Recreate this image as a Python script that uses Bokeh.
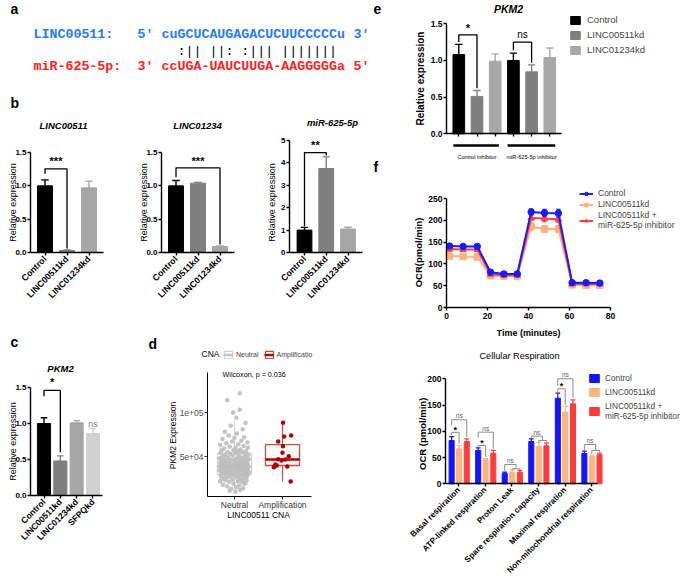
import math
from bokeh.plotting import figure
from bokeh.models import Range1d, Label, FixedTicker, Legend, LegendItem, NumeralTickFormatter
from bokeh.layouts import row, column
from bokeh.embed import file_html
from bokeh.resources import INLINE

FONT = "Liberation Sans"
MONO = "Liberation Mono"

# ================= data =================
# a
lnc_name = "LINC00511:"
mir_name = "miR-625-5p:"
seq_lnc = "cuGCUCAUGAGACUCUUCCCCCu"
seq_mir = "ccUGA-UAUCUUGA-AAGGGGGa"
pairing = ":|| ||: :||| |||||||"

# b
b_cats = ["Control", "LINC00511kd", "LINC01234kd"]
b1_vals = [1.00, 0.03, 0.97]
b1_err = [0.09, 0.01, 0.10]
b2_vals = [1.00, 1.04, 0.09]
b2_err = [0.08, 0.01, 0.01]
b3_vals = [1.00, 3.75, 1.05]
b3_err = [0.12, 0.52, 0.08]

# c
c_cats = ["Control", "LINC00511kd", "LINC01234kd", "SFPQkd"]
c_vals = [1.00, 0.48, 1.01, 0.86]
c_err = [0.08, 0.07, 0.03, 0.07]

# d
d_cats = ["Neutral", "Amplification"]
neutral_k = [122, 114, 103, 100, 94, 88, 85, 81, 78, 76,
             74, 72, 71, 70, 68, 67, 66, 65, 64, 63,
             62, 61, 60, 60, 59, 58, 57, 57, 56, 56,
             55, 55, 54, 54, 53, 53, 52, 52, 51, 51,
             50, 50, 49, 49, 49, 48, 48, 47, 47, 47,
             46, 46, 46, 45, 45, 45, 44, 44, 44, 43,
             43, 43, 42, 42, 42, 42, 41, 41, 41, 40,
             40, 40, 40, 39, 39, 39, 39, 38, 38, 38,
             38, 37, 37, 37, 37, 36, 36, 36, 35, 35,
             35, 35, 34, 34, 34, 33, 33, 33, 33, 32,
             32, 32, 31, 31, 31, 30, 30, 30, 29, 29,
             29, 28, 28, 28, 27, 27, 27, 26, 26, 25,
             25, 24, 24, 23, 23, 22, 22, 21, 21, 20,
             19, 19, 18, 17, 16, 15, 14, 13, 12, 11,
             10]
neutral_jit = [0.11, -0.15, 0.11, -0.03, 0.04, 0.23, -0.08, 0.17, -0.2, 0.05,
               -0.12, 0.2, 0.0, -0.25, 0.14, -0.05, 0.27, -0.17, 0.08, -0.3,
               0.19, -0.1, 0.02, 0.28, -0.22, 0.12, -0.02, -0.27, 0.24, 0.07,
               -0.14, 0.16, -0.29, 0.03, 0.21, -0.09, 0.29, -0.19, 0.1, -0.04,
               0.25, -0.24, 0.06, 0.18, -0.13, -0.31, 0.13, 0.01, -0.21, 0.3,
               -0.07, 0.22, -0.28, 0.09, -0.16, 0.26, 0.0, -0.23, 0.15, -0.11,
               0.2, -0.3, 0.04, 0.27, -0.18, 0.12, -0.06, 0.24, -0.26, 0.08,
               -0.13, 0.18, -0.01, 0.29, -0.22, 0.06, -0.3, 0.15, -0.09, 0.23,
               -0.17, 0.02, 0.26, -0.25, 0.11, -0.04, 0.2, -0.28, 0.14, -0.12,
               0.28, -0.2, 0.07, -0.31, 0.17, -0.06, 0.24, -0.15, 0.01, 0.3,
               -0.24, 0.1, -0.1, 0.22, -0.27, 0.05, 0.19, -0.18, 0.27, -0.03,
               0.13, -0.29, 0.21, -0.08, 0.09, -0.22, 0.26, -0.14, 0.03, 0.18,
               -0.26, 0.12, -0.05, 0.25, -0.19, 0.07, -0.3, 0.16, -0.11, 0.23,
               -0.02, 0.2, -0.24, 0.1, -0.15, 0.04, 0.18, -0.07, 0.12, -0.1,
               0.02]
amp_k = [88.3, 73.9, 72.7, 67.0, 61.7, 54.2, 50.4, 47.0, 46.6, 45.5, 40.9, 37.9, 39.8, 38.6, 21.6]
amp_jit = [0.01, 0.18, 0.035, -0.09, 0.01, 0.0, 0.13, -0.09, 0.06, -0.02, -0.15, -0.18, -0.12, 0.1, 0.17]
box_q1 = [29500, 39800]
box_med = [38500, 46600]
box_q3 = [53750, 63600]
box_lo = [9500, 21600]
box_hi = [90000, 88300]

# e
e_groups = ["Control inhibitor", "miR-625-5p inhibitor"]
e_series = ["Control", "LINC00511kd", "LINC01234kd"]
e_ctrl = [1.08, 1.00]
e_ctrl_err = [0.14, 0.10]
e_kd511 = [0.51, 0.845]
e_kd511_err = [0.08, 0.095]
e_kd1234 = [0.99, 1.04]
e_kd1234_err = [0.10, 0.13]

# f (top)
f_time = [1.5, 8.1, 15.0, 21.5, 28.0, 34.5, 41.3, 47.8, 54.6, 61.3, 68.1, 74.8]
f_ctrl = [141, 140, 140, 81, 77, 77, 219, 217, 216, 57, 57, 56]
f_ctrl_err = [4, 3, 5, 3, 2, 2, 7, 8, 9, 2, 2, 2]
f_kd = [118, 117, 116, 73, 72, 72, 186, 180, 180, 52, 51, 51]
f_kd_err = [6, 5, 6, 3, 3, 3, 9, 8, 8, 2, 2, 2]
f_inh = [134, 133, 133, 76, 74, 74, 205, 204, 202, 54, 54, 54]
f_inh_err = [5, 4, 5, 2, 2, 2, 6, 7, 7, 2, 2, 2]
f_series = ["Control", "LINC00511kd", "LINC00511kd +\nmiR-625-5p inhibitor"]

# f (bottom)
resp_cats = ["Basal respiration", "ATP-linked respiration", "Proton Leak",
             "Spare respiration capacity", "Maximal respiration", "Non-mitochondrial respiration"]
resp_ctrl = [82.5, 63.5, 20.3, 80.6, 163.0, 57.8]
resp_ctrl_err = [7.5, 5.0, 2.0, 5.0, 9.7, 4.4]
resp_kd = [66.7, 45.7, 22.2, 71.0, 136.5, 52.7]
resp_kd_err = [6.3, 2.3, 4.5, 8.0, 10.8, 1.9]
resp_inh = [80.6, 58.4, 22.2, 72.4, 152.4, 55.2]
resp_inh_err = [5.1, 5.1, 3.2, 5.1, 7.6, 3.2]


# ================= helpers =================
def make(cx, cy, w, h, xa, ya, axes=True):
    """Figure whose plotting frame covers its whole canvas; xa/ya map data to page pixels."""
    kx = (xa[2] - xa[0]) / (xa[3] - xa[1])
    ky = (ya[2] - ya[0]) / (ya[3] - ya[1])
    fx = lambda P: xa[0] + (P - xa[1]) * kx
    fy = lambda P: ya[0] + (P - ya[1]) * ky
    kw = {}
    if not axes:
        kw = dict(x_axis_location=None, y_axis_location=None)
    p = figure(width=w, height=h,
               x_range=Range1d(fx(cx), fx(cx + w)), y_range=Range1d(fy(cy + h), fy(cy)),
               min_border=0, min_border_left=0, min_border_right=0,
               min_border_top=0, min_border_bottom=0,
               output_backend="svg", toolbar_location=None, tools="", **kw)
    p.grid.visible = False
    p.outline_line_color = None
    return p, fx, fy


def lab(p, x, y, text, size, color="black", style="normal", align="center",
        baseline="middle", angle=0.0, font=FONT):
    p.add_layout(Label(x=x, y=y, text=text, text_font=font, text_font_size=f"{size}px",
                       text_color=color, text_font_style=style, text_align=align,
                       text_baseline=baseline, angle=angle))


def gp_axes(p, yloc, xloc, xbounds, ybounds, xticks, xlabels, yticks, yfmt=None,
            xsize=8.8, ysize=8, orient=math.pi / 4, lw=1.4):
    for ax in (p.xaxis[0], p.yaxis[0]):
        ax.axis_line_width = lw
        ax.axis_line_color = "black"
        ax.major_tick_line_width = lw
        ax.major_tick_line_color = "black"
        ax.major_tick_in = 0
        ax.major_tick_out = 3
        ax.minor_tick_line_color = None
        ax.major_label_text_font = FONT
        ax.major_label_text_font_style = "bold"
        ax.major_label_text_color = "black"
    p.xaxis.major_label_standoff = 2
    p.yaxis.major_label_standoff = 1
    p.yaxis.fixed_location = yloc
    p.xaxis.fixed_location = xloc
    p.xaxis.bounds = xbounds
    p.yaxis.bounds = ybounds
    p.xaxis.ticker = FixedTicker(ticks=xticks)
    p.xaxis.major_label_overrides = {t: l for t, l in zip(xticks, xlabels)}
    p.xaxis.major_label_orientation = orient
    p.xaxis.major_label_text_font_size = f"{xsize}px"
    p.yaxis.ticker = FixedTicker(ticks=yticks)
    p.yaxis.major_label_text_font_size = f"{ysize}px"
    if yfmt:
        p.yaxis.formatter = NumeralTickFormatter(format=yfmt)


def errbars(p, xs, vals, errs, colors, cap, lw=1.4):
    tops = [v + e for v, e in zip(vals, errs)]
    p.segment(x0=xs, y0=vals, x1=xs, y1=tops, line_color=colors, line_width=lw)
    p.segment(x0=[x - cap for x in xs], y0=tops, x1=[x + cap for x in xs], y1=tops,
              line_color=colors, line_width=lw)


def brackets(p, specs, color="black", lw=1.3):
    # spec: (x0, x1, y_line, y_left_end, y_right_end)
    xs = [[s[0], s[0], s[1], s[1]] for s in specs]
    ys = [[s[3], s[2], s[2], s[4]] for s in specs]
    p.multi_line(xs=xs, ys=ys, line_color=color, line_width=lw)


# ================= panel a =================
pa, fx, fy = make(0, 0, 370, 88, (0, 0, 1, 1), (0, 0, -1, 1), axes=False)
lab(pa, fx(10), fy(8), "a", 14, style="bold", align="left")
blue_t = "#1f7bff"
red_t = "#ff2020"
CW = 8.0
for txt, X, Y, col, st in [(lnc_name, 33, 34, blue_t, "bold"), ("5'", 33 + 13 * CW, 34, blue_t, "bold"),
                           (seq_lnc, 33 + 16 * CW, 34, blue_t, "bold"), ("3'", 33 + 40 * CW, 34, blue_t, "bold"),
                           (pairing, 33 + 18 * CW, 51, "black", "normal"),
                           (mir_name, 33, 66, red_t, "bold"), ("3'", 33 + 13 * CW, 66, red_t, "bold"),
                           (seq_mir, 33 + 16 * CW, 66, red_t, "bold"), ("5'", 33 + 40 * CW, 66, red_t, "bold")]:
    lab(pa, fx(X), fy(Y), txt, 13.3, color=col, style=st, align="left", font=MONO)

# ================= panel b =================
b_colors = ["#000000", "#7f7f7f", "#a6a6a6"]
xs3 = [0, 1, 2]


def bpanel(cx, w, axX, xa, ya, vals, errs, yticks, ytop, yfmt, title, tX, tY, br, stars, starY):
    p, fx, fy = make(cx, 88, w, 235, xa, ya)
    p.vbar(x=xs3, top=vals, width=0.68, color=b_colors)
    errbars(p, xs3, vals, errs, b_colors, 0.17)
    brackets(p, [br])
    lab(p, (br[0] + br[1]) / 2, starY, stars, 11, style="bold")
    gp_axes(p, fx(axX), 0, (fx(axX), fx(axX + 73)), (0, ytop), xs3, b_cats, yticks, yfmt)
    lab(p, fx(tX), fy(tY), title, 9.5, style="bold italic")
    lab(p, fx(axX - 17.5), fy(202), "Relative expression", 9, angle=math.pi / 2)
    return p, fx, fy


b1, fx, fy = bpanel(0, 130, 30, (0, 44.5, 1, 66.5), (0, 252, 1.5, 152),
                    b1_vals, b1_err, [0, 0.5, 1.0, 1.5], 1.5, "0.0", "LINC00511", 63, 125,
                    (0, 1, 1.255, 1.18, 0.06), "***", 1.37)
lab(b1, fx(10), fy(102), "b", 14, style="bold", align="left")
b2, fx, fy = bpanel(130, 120, 161, (0, 175.5, 1, 197.5), (0, 252, 1.5, 152),
                    b2_vals, b2_err, [0, 0.5, 1.0, 1.5], 1.5, "0.0", "LINC01234", 197, 125,
                    (0, 2, 1.27, 1.13, 0.12), "***", 1.38)
b3, fx, fy = bpanel(250, 120, 289, (0, 304, 1, 325.75), (0, 252, 5, 140),
                    b3_vals, b3_err, [0, 1, 2, 3, 4, 5], 5, None, "miR-625-5p", 332, 122,
                    (0, 1, 4.46, 1.17, 4.33), "**", 4.8)

# ================= panel c =================
c_colors = ["#000000", "#7f7f7f", "#a6a6a6", "#d0d0d0"]
xs4 = [0, 1, 2, 3]
pc, fx, fy = make(0, 323, 140, 255, (0, 43.5, 1, 59.83), (0, 495, 1.5, 387))
pc.vbar(x=xs4, top=c_vals, width=0.8, color=c_colors)
errbars(pc, xs4, c_vals, c_err, c_colors, 0.2)
brackets(pc, [(0, 1, 1.46, 1.38, 0.6)])
lab(pc, 0.5, 1.57, "*", 11, style="bold")
lab(pc, 3, 1.0, "ns", 9, color="#808080")
gp_axes(pc, fx(30), 0, (fx(30), fx(102)), (0, 1.5), xs4, c_cats, [0, 0.5, 1.0, 1.5], "0.0", xsize=8.6)
lab(pc, fx(60), fy(368), "PKM2", 9.5, style="bold italic")
lab(pc, fx(12.5), fy(441), "Relative expression", 9, angle=math.pi / 2)
lab(pc, fx(10), fy(341), "c", 14, style="bold", align="left")

# ================= panel d =================
pd_, fx, fy = make(140, 323, 230, 255, (1, 234, 2, 282), (50000, 456, 100000, 412))
box_line = ["#d4d4d4", "#cf4c4c"]
box_medc = ["#c2c2c2", "#b30000"]
leg_items = []
for i, pos in enumerate([1, 2]):
    hw = 0.355
    rq = pd_.quad(left=[pos - hw], right=[pos + hw], bottom=[box_q1[i]], top=[box_q3[i]],
                  fill_color="white", fill_alpha=0.0, line_color=box_line[i], line_width=1.3)
    pd_.segment(x0=[pos, pos], y0=[box_q3[i], box_q1[i]], x1=[pos, pos], y1=[box_hi[i], box_lo[i]],
                line_color=box_line[i], line_width=1.2)
    rm = pd_.segment(x0=[pos - hw], y0=[box_med[i]], x1=[pos + hw], y1=[box_med[i]],
                     line_color=box_medc[i], line_width=2.4)
    leg_items.append(LegendItem(label=d_cats[i] if i == 0 else "Amplificatio", renderers=[rq, rm]))
pd_.scatter(x=[1 + j for j in neutral_jit], y=[v * 1000 for v in neutral_k], size=4.5,
            color="#bdbdbd", alpha=0.9, line_color=None)
pd_.scatter(x=[2 + j for j in amp_jit], y=[v * 1000 for v in amp_k], size=4.5,
            color="#b00000", line_color=None)
for ax in (pd_.xaxis[0], pd_.yaxis[0]):
    ax.axis_line_width = 1.0
    ax.axis_line_color = "black"
    ax.major_tick_line_color = "#333333"
    ax.major_tick_in = 0
    ax.major_tick_out = 3
    ax.minor_tick_line_color = None
    ax.major_label_text_font = FONT
    ax.major_label_text_color = "#333333"
pd_.xaxis.major_label_standoff = 0
pd_.yaxis.major_label_standoff = 1
pd_.yaxis.fixed_location = fx(207)
pd_.xaxis.fixed_location = fy(496)
pd_.xaxis.bounds = (fx(207), fx(311))
pd_.yaxis.bounds = (fy(496), fy(372))
pd_.xaxis.ticker = FixedTicker(ticks=[1, 2])
pd_.xaxis.major_label_overrides = {1: d_cats[0], 2: d_cats[1]}
pd_.xaxis.major_label_text_font_size = "8.5px"
pd_.yaxis.ticker = FixedTicker(ticks=[50000, 100000])
pd_.yaxis.major_label_overrides = {50000: "5e+04", 100000: "1e+05"}
pd_.yaxis.major_label_text_font_size = "8.5px"
pd_.yaxis.major_label_text_color = "#4d4d4d"
dleg = Legend(items=leg_items, orientation="horizontal", location=(83, 219),
              glyph_width=10, glyph_height=9, label_height=9, label_standoff=3, spacing=5,
              padding=0, margin=0, border_line_color=None, background_fill_alpha=0,
              label_text_font=FONT, label_text_font_size="7px")
pd_.add_layout(dleg)
lab(pd_, fx(201), fy(353), "CNA", 8.5, align="left")
lab(pd_, fx(222), fy(374), "Wilcoxon, p = 0.036", 7.2, align="left")
lab(pd_, fx(172), fy(435), "PKM2 Expression", 8.5, angle=math.pi / 2)
lab(pd_, fx(258), fy(514), "LINC00511 CNA", 8.5)
lab(pd_, fx(148), fy(343), "d", 14, style="bold", align="left")

# ================= panel e =================
pe, fx, fy = make(370, 0, 315, 160, (0, 458.3, 1, 476.5), (0, 133.3, 1.5, 23.3))
e_colors = ["#000000", "#7f7f7f", "#a8a8a8"]
e_renders = []
for k, (vals, errs) in enumerate([(e_ctrl, e_ctrl_err), (e_kd511, e_kd511_err), (e_kd1234, e_kd1234_err)]):
    xs = [k, k + 3]
    r = pe.vbar(x=xs, top=vals, width=0.64, color=e_colors[k])
    errbars(pe, xs, vals, errs, [e_colors[k]] * 2, 0.2)
    e_renders.append(r)
brackets(pe, [(0, 1, 1.35, 1.25, 0.62), (3, 4, 1.25, 1.14, 0.97)])
lab(pe, 0.5, 1.44, "*", 11, style="bold")
lab(pe, 3.5, 1.36, "ns", 10)
gp_axes(pe, fx(446), 0, (fx(446), fx(561)), (0, 1.5), [0, 1, 2, 3, 4, 5], [""] * 6,
        [0, 0.5, 1.0, 1.5], "0.0", ysize=8.5, orient="horizontal")
pe.segment(x0=[-0.3, 2.68], y0=[fy(145)] * 2, x1=[2.2, 5.3], y1=[fy(145)] * 2,
           line_color="black", line_width=2.5)
lab(pe, 1, fy(156), e_groups[0], 5.6)
lab(pe, 4, fy(156), e_groups[1], 5.6)
eleg = Legend(items=[LegendItem(label=s, renderers=[r]) for s, r in zip(e_series, e_renders)],
              location=(199, 105), glyph_width=12, glyph_height=10, label_height=10,
              label_standoff=6, spacing=4, padding=0, margin=0, border_line_color=None,
              background_fill_alpha=0, label_text_font=FONT, label_text_font_size="9.5px")
pe.add_layout(eleg)
lab(pe, fx(508), fy(8), "PKM2", 10.5, style="bold italic")
lab(pe, fx(420), fy(78), "Relative expression", 10, style="bold", angle=math.pi / 2)
lab(pe, fx(373), fy(8), "e", 14, style="bold", align="left")

# ================= panel f (top) =================
pf, fx, fy = make(370, 160, 315, 203, (0, 446, 80, 610), (0, 307, 250, 198))
f_cols = ["#1a1aff", "#ffb27f", "#ff4040"]
f_marks = ["circle", "square", "triangle"]
frs = {}
for k in [1, 2, 0]:
    vals, errs = [(f_ctrl, f_ctrl_err), (f_kd, f_kd_err), (f_inh, f_inh_err)][k]
    errbars(pf, f_time, vals, errs, [f_cols[k]] * len(f_time), 1.0, lw=1.2)
    errbars(pf, f_time, vals, [-e for e in errs], [f_cols[k]] * len(f_time), 1.0, lw=1.2)
    rl = pf.line(f_time, vals, line_color=f_cols[k], line_width=2)
    rs = pf.scatter(f_time, vals, marker=f_marks[k], size=6.5, color=f_cols[k])
    frs[k] = [rl, rs]
gp_axes(pf, 0, 0, (0, 80), (0, 250), [0, 20, 40, 60, 80], ["0", "20", "40", "60", "80"],
        [0, 50, 100, 150, 200, 250], None, xsize=8.5, ysize=8.5, orient="horizontal")
fleg = Legend(items=[LegendItem(label=f_series[k], renderers=frs[k]) for k in range(3)],
              location=(209, 133), glyph_width=14, glyph_height=9, label_height=9,
              label_standoff=5, spacing=1, padding=0, margin=0, border_line_color=None,
              background_fill_alpha=0, label_text_font=FONT, label_text_font_size="8.5px")
pf.add_layout(fleg)
lab(pf, fx(528), fy(332), "Time (minutes)", 9, style="bold")
lab(pf, fx(418), fy(252), "OCR(pmol/min)", 9.5, style="bold", angle=math.pi / 2)
lab(pf, fx(519), fy(355), "Cellular Respiration", 9.2)
lab(pf, fx(373), fy(166), "f", 14, style="bold", align="left")

# ================= panel f (bottom) =================
pg, fx, fy = make(370, 363, 315, 215, (0, 458.3, 1, 484.85), (0, 483.3, 200, 378.3))
g_cols = ["#1414ff", "#ffb37d", "#ff3c3c"]
g_off = [-0.27, 0.01, 0.30]
xs6 = list(range(6))
g_renders = []
for k, (vals, errs) in enumerate([(resp_ctrl, resp_ctrl_err), (resp_kd, resp_kd_err), (resp_inh, resp_inh_err)]):
    xs = [i + g_off[k] for i in xs6]
    r = pg.vbar(x=xs, top=vals, width=0.19, color=g_cols[k])
    errbars(pg, xs, vals, errs, [g_cols[k]] * 6, 0.09, lw=1.2)
    g_renders.append(r)
B, O, R = g_off
M = (O + R) / 2
g_brackets = [
    (0 + B, 0 + O, 98, 93, 76), (0 + B, 0 + R, 122, 111, 89),
    (1 + B, 1 + O, 73, 70, 51), (1 + B, 1 + R, 98.3, 88, 67),
    (2 + B, 2 + M, 36.8, 25, 28.6), (2 + O, 2 + R, 28.6, 27, 27),
    (3 + B, 3 + M, 90.7, 87, 82.5), (3 + O, 3 + R, 82.5, 80, 79),
    (4 + B, 4 + O, 181, 175, 150), (4 + B, 4 + R, 200, 187, 164),
    (5 + B, 5 + M, 74.8, 64, 63.5), (5 + O, 5 + R, 63.5, 57, 60),
]
brackets(pg, g_brackets, color="#8c8c8c", lw=1.0)
for x, y in [(0 + (B + O) / 2, 103), (1 + (B + O) / 2, 78), (4 + (B + O) / 2, 186)]:
    lab(pg, x, y, "*", 9, style="bold")
for x, y in [(0 + (B + R) / 2, 130), (1 + (B + R) / 2, 106), (2 + (B + M) / 2, 44), (3 + (B + M) / 2, 98),
             (4 + (B + R) / 2, 208), (5 + (B + M) / 2, 82)]:
    lab(pg, x, y, "ns", 6.5, color="#606060")
gp_axes(pg, fx(445), 0, (fx(445), fx(597)), (0, 200), xs6, resp_cats, [0, 50, 100, 150, 200], None,
        xsize=8.2, ysize=8.5, orient=math.pi / 4)
gleg = Legend(items=[LegendItem(label=f_series[k], renderers=[g_renders[k]]) for k in range(3)],
              location=(218, 157), glyph_width=12, glyph_height=10, label_height=10,
              label_standoff=5, spacing=4, padding=0, margin=0, border_line_color=None,
              background_fill_alpha=0, label_text_font=FONT, label_text_font_size="8.3px")
pg.add_layout(gleg)
lab(pg, fx(422), fy(432), "OCR  (pmol/min)", 9.5, style="bold", angle=math.pi / 2)

# ================= layout =================
left = column(pa, row(b1, b2, b3), row(pc, pd_))
right = column(pe, pf, pg)
root = row(left, right)

open("out.html", "w").write(file_html(root, INLINE))
